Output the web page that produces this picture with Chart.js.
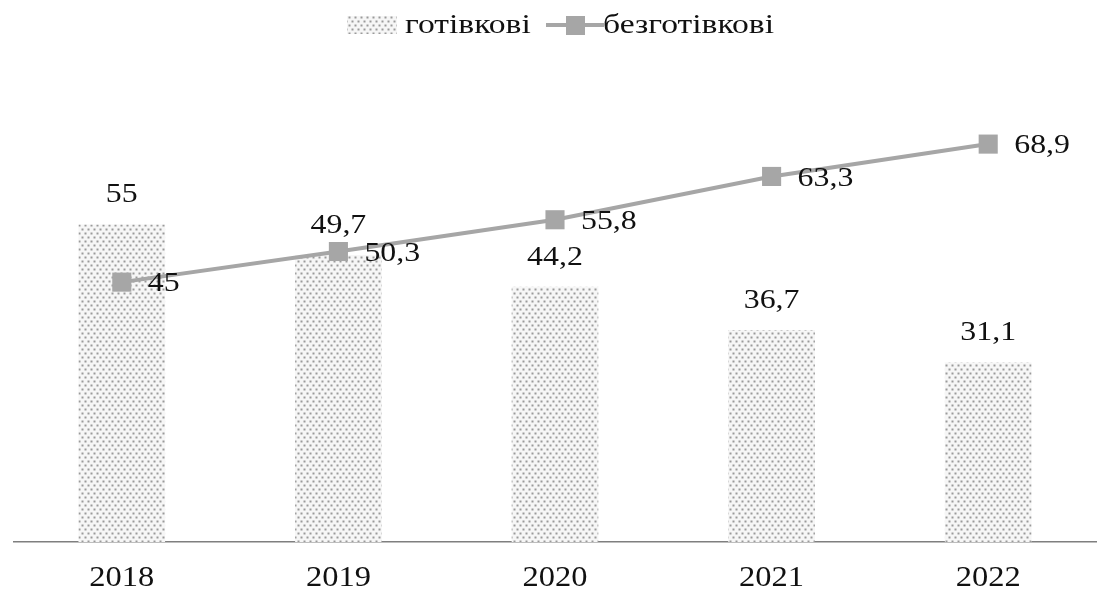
<!DOCTYPE html>
<html>
<head>
<meta charset="utf-8">
<script src="https://cdn.jsdelivr.net/npm/chart.js@4/dist/chart.umd.min.js"></script>
<style>
  html, body { margin: 0; padding: 0; background: #fff; overflow: hidden; }
  #wrap { width: 1101px; height: 591px; overflow: hidden; position: relative; }
  #paymentsChart { position: absolute; left: 0; top: 0; }
</style>
</head>
<body>
<div id="wrap"><canvas id="paymentsChart" width="1110" height="591"></canvas></div>
<script>
const years = ['2018', '2019', '2020', '2021', '2022'];
const cashShare = [55, 49.7, 44.2, 36.7, 31.1];
const cashlessShare = [45, 50.3, 55.8, 63.3, 68.9];
const seriesNames = ['готівкові', 'безготівкові'];

const fontFamily = '"Liberation Serif", "Times New Roman", serif';
const lineGrey = '#a6a6a6';
const ink = '#111';

// stipple fill for the cash bars
const makeDots = () => {
    const tile = document.createElement('canvas');
    tile.width = 6;
    tile.height = 8;
    const t = tile.getContext('2d');
    t.fillStyle = '#f6f6f6';
    t.fillRect(0, 0, 6, 8);
    t.fillStyle = '#9a9a9a';
    t.fillRect(0.5, 0.5, 2, 2);
    t.fillRect(3.5, 4.5, 2, 2);
    return t.createPattern(tile, 'repeat');
};
const dots = makeDots();

const fmt = v => String(v).replace('.', ',');

// the serif text is set a little wide, so draw it with a horizontal stretch
const wideText = (ctx, text, x, y, size, stretch, align) => {
    ctx.save();
    ctx.font = `${size}px ${fontFamily}`;
    ctx.fillStyle = ink;
    ctx.textBaseline = 'middle';
    ctx.textAlign = align;
    ctx.translate(x, y);
    ctx.scale(stretch, 1);
    ctx.fillText(text, 0, 0);
    ctx.restore();
};

const valueLabels = {
    id: 'valueLabels',
    afterDatasetsDraw(chart) {
        const ctx = chart.ctx;
        chart.getDatasetMeta(0).data.forEach((bar, i) => {
            wideText(ctx, fmt(cashShare[i]), bar.x, bar.y - 29, 27, 1.18, 'center');
        });
        chart.getDatasetMeta(1).data.forEach((pt, i) => {
            wideText(ctx, fmt(cashlessShare[i]), pt.x + 26, pt.y + 2, 27, 1.18, 'left');
        });

        // category labels under the axis
        const xs = chart.scales.x;
        years.forEach((y, i) => {
            wideText(ctx, y, xs.getPixelForTick(i), 578, 29, 1.12, 'center');
        });
    }
};

const topLegend = {
    id: 'topLegend',
    afterDraw(chart) {
        const ctx = chart.ctx;
        const cy = 25;
        ctx.save();
        ctx.fillStyle = dots;
        ctx.fillRect(347, cy - 9, 50, 18);

        ctx.strokeStyle = lineGrey;
        ctx.lineWidth = 4;
        ctx.beginPath();
        ctx.moveTo(546, cy);
        ctx.lineTo(604, cy);
        ctx.stroke();
        ctx.fillStyle = lineGrey;
        ctx.fillRect(566, cy - 9, 19, 19);
        ctx.restore();

        wideText(ctx, seriesNames[0], 405, cy + 1, 28, 1.2, 'left');
        wideText(ctx, seriesNames[1], 603, cy + 1, 28, 1.2, 'left');
    }
};

new Chart(document.getElementById('paymentsChart'), {
    type: 'bar',
    data: {
        labels: years,
        datasets: [
            {
                type: 'bar',
                label: seriesNames[0],
                data: cashShare,
                backgroundColor: dots,
                borderWidth: 0,
                categoryPercentage: 0.8,
                barPercentage: 0.5,
                order: 1
            },
            {
                type: 'line',
                label: seriesNames[1],
                data: cashlessShare,
                borderColor: lineGrey,
                backgroundColor: lineGrey,
                borderWidth: 4,
                pointStyle: 'rect',
                pointRadius: 13.5,
                pointBorderWidth: 0,
                pointBackgroundColor: lineGrey,
                tension: 0,
                order: 0
            }
        ]
    },
    options: {
        responsive: false,
        animation: false,
        layout: { padding: { top: 80, left: 11, right: 4, bottom: 0 } },
        plugins: {
            legend: { display: false },
            tooltip: { enabled: false }
        },
        scales: {
            x: {
                offset: true,
                grid: { display: false, drawTicks: false },
                border: { display: true, color: '#7f7f7f', width: 1.5 },
                ticks: { display: false },
                afterFit: scale => { scale.height = 49; }
            },
            y: {
                display: false,
                min: 0,
                max: 80
            }
        }
    },
    plugins: [valueLabels, topLegend]
});
</script>
</body>
</html>
